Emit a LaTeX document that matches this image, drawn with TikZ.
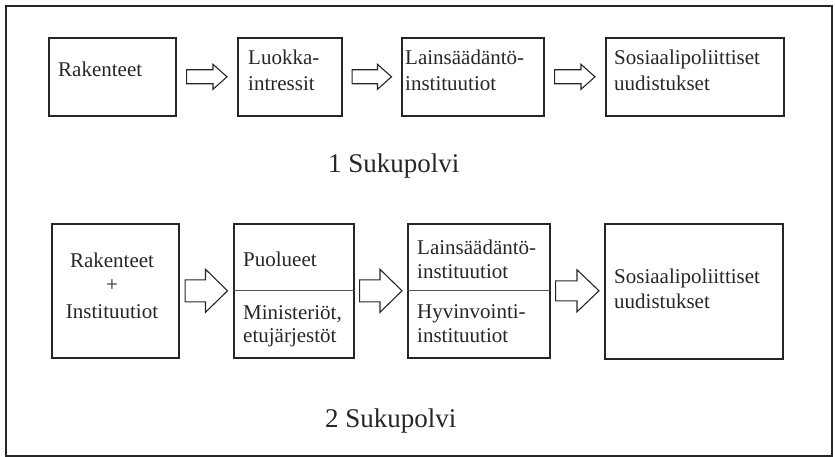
\documentclass[tikz,border=0pt]{standalone}
\usepackage{fontspec}
\setmainfont{Liberation Serif}
\usetikzlibrary{calc}
\definecolor{ink}{gray}{0.15}
\tikzset{
  box/.style={draw=ink, line width=1.6pt, inner sep=0pt, anchor=north west},
  lbl/.style={anchor=base west, inner sep=0pt, text=ink, font=\fontsize{21}{26}\selectfont},
  clbl/.style={anchor=base, inner sep=0pt, text=ink, font=\fontsize{21}{26}\selectfont},
  gen/.style={anchor=base west, inner sep=0pt, text=ink, font=\fontsize{27}{32}\selectfont},
  arrowline/.style={draw=ink, line width=1.1pt, line join=miter},
  divider/.style={draw=ink!80, line width=0.9pt},
}
% hollow block arrow between two boxes:
% #1 from, #2 to, #3 gap, #4 shaft half-height, #5 head half-height, #6 head length
\newcommand{\hollowarrow}[6]{%
  \draw[arrowline] let \p1=(#1.east), \p2=(#2.west) in
    (\x1+#3pt,\y1+#4pt) -- (\x2-#3pt-#6pt,\y1+#4pt) -- (\x2-#3pt-#6pt,\y1+#5pt)
    -- (\x2-#3pt,\y1) -- (\x2-#3pt-#6pt,\y1-#5pt) -- (\x2-#3pt-#6pt,\y1-#4pt)
    -- (\x1+#3pt,\y1-#4pt) -- cycle;}
\begin{document}
\begin{tikzpicture}[x=1pt,y=-1pt]
\useasboundingbox (0,0) rectangle (835,457);
% outer frame
\node[draw=ink, line width=1.6pt, minimum width=826, minimum height=450, inner sep=0pt, anchor=north west] (frame) at (5,5) {};

% first generation
\node[box, minimum width=127, minimum height=78] (a1) at (48,37) {};
\node[box, minimum width=104, minimum height=78] (a2) at (237,37) {};
\node[box, minimum width=142, minimum height=78] (a3) at (401,37) {};
\node[box, minimum width=178, minimum height=78] (a4) at (605,37) {};
\hollowarrow{a1}{a2}{10}{7}{12.5}{14}
\hollowarrow{a2}{a3}{9.5}{7}{12.5}{14}
\hollowarrow{a3}{a4}{10}{7}{12.5}{14}
\node[lbl] (a1t) at (58,77) {Rakenteet};
\node[lbl] (a2t) at (248,65) {Luokka-};
\node[lbl] (a2u) at (248,91) {intressit};
\node[lbl] (a3t) at (405,65) {Lainsäädäntö-};
\node[lbl] (a3u) at (405,91) {instituutiot};
\node[lbl] (a4t) at (614,65) {Sosiaalipoliittiset};
\node[lbl] (a4u) at (614,91) {uudistukset};
\node[gen] (g1) at (328,173) {1 Sukupolvi};

% second generation
\node[box, minimum width=127, minimum height=134] (b1) at (51,223) {};
\node[box, minimum width=120, minimum height=134] (b2) at (233,223) {};
\node[box, minimum width=142, minimum height=134] (b3) at (407,223) {};
\node[box, minimum width=178, minimum height=135] (b4) at (604,223) {};
\draw[divider] (b2.west) -- (b2.east);
\draw[divider] (b3.west) -- (b3.east);
\hollowarrow{b1}{b2}{5.5}{11}{21.5}{22}
\hollowarrow{b2}{b3}{5}{11}{21.5}{22}
\hollowarrow{b3}{b4}{5}{10}{21}{22}
\node[clbl] (b1t) at (112,267) {Rakenteet};
\node[clbl] (b1p) at (112,291) {+};
\node[clbl] (b1u) at (112,318) {Instituutiot};
\node[lbl] (b2t) at (243,266) {Puolueet};
\node[lbl] (b2u) at (243,319) {Ministeriöt,};
\node[lbl] (b2v) at (243,342) {etujärjestöt};
\node[lbl] (b3t) at (417,254) {Lainsäädäntö-};
\node[lbl] (b3u) at (417,278) {instituutiot};
\node[lbl] (b3v) at (417,318) {Hyvinvointi-};
\node[lbl] (b3w) at (417,342) {instituutiot};
\node[lbl] (b4t) at (614,283) {Sosiaalipoliittiset};
\node[lbl] (b4u) at (614,308) {uudistukset};
\node[gen] (g2) at (325,427) {2 Sukupolvi};
\end{tikzpicture}
\end{document}
